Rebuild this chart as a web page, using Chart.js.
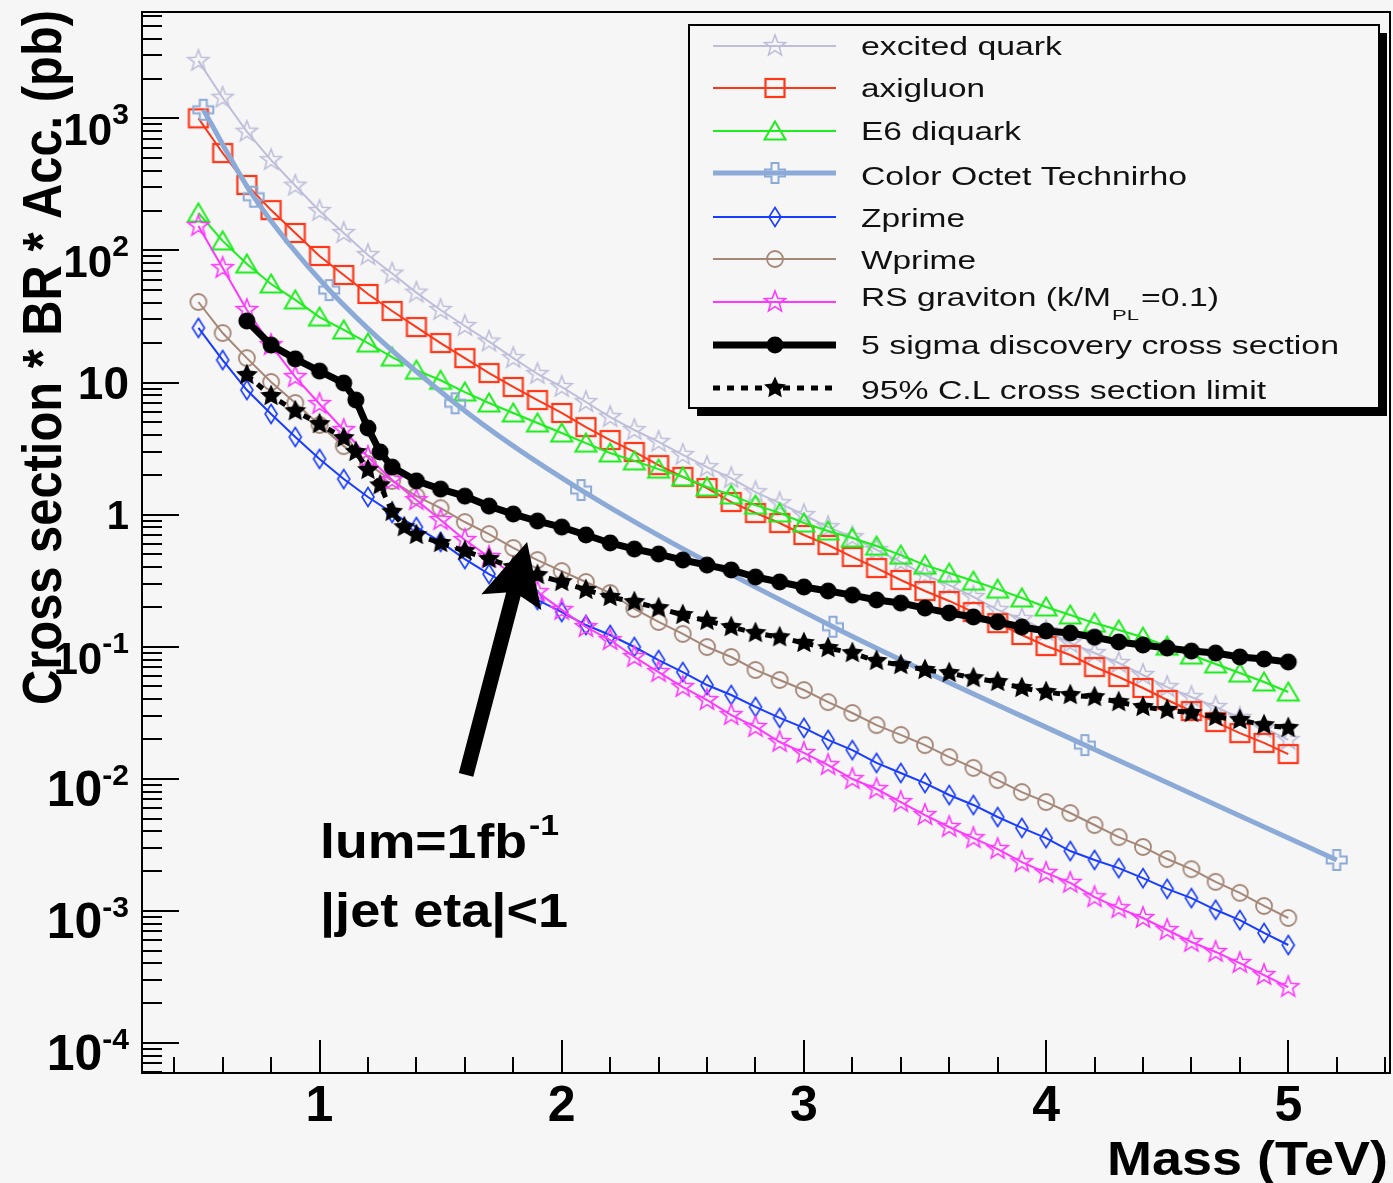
<!DOCTYPE html>
<html>
<head>
<meta charset="utf-8">
<title>Cross section * BR * Acc. vs Mass</title>
<script src="https://cdn.jsdelivr.net/npm/chart.js@4.4.1/dist/chart.umd.min.js"></script>
<style>
html,body{margin:0;padding:0;background:#f6f6f6;overflow:hidden;}
canvas{display:block;}
</style>
</head>
<body>
<canvas id="chart" width="1393" height="1183"></canvas>
<script>
// ---------------- DATA ----------------
const masses = [0.5,0.6,0.7,0.8,0.9,1.0,1.1,1.2,1.3,1.4,1.5,1.6,1.7,1.8,1.9,2.0,2.1,2.2,2.3,2.4,2.5,2.6,2.7,2.8,2.9,3.0,3.1,3.2,3.3,3.4,3.5,3.6,3.7,3.8,3.9,4.0,4.1,4.2,4.3,4.4,4.5,4.6,4.7,4.8,4.9,5.0];

const excitedQuark = [2720,1430,792,483,309,199,135.5,92.3,66.8,47.9,35.4,26.8,20.4,15.3,11.6,9.25,7.12,5.48,4.37,3.55,2.83,2.29,1.89,1.48,1.22,0.993,0.805,0.676,0.540,0.438,0.349,0.293,0.238,0.190,0.162,0.1315,0.1067,0.0896,0.0753,0.0611,0.0495,0.0416,0.0350,0.0289,0.0243,0.0197];

const axigluon = [1000,546,313,202,135.5,90.8,65.2,46.8,34.8,26.3,19.9,15.3,11.8,9.25,7.37,5.88,4.60,3.67,2.98,2.37,1.93,1.59,1.245,1.028,0.864,0.701,0.589,0.478,0.394,0.320,0.264,0.222,0.183,0.151,0.1227,0.1012,0.0865,0.0702,0.0590,0.0487,0.0395,0.0326,0.0269,0.0222,0.0187,0.0154];

const e6Diquark = [192,118,78.9,55.7,42.2,31.3,25.0,19.9,15.6,12.4,10.4,8.47,7.00,5.88,4.94,4.15,3.48,2.93,2.55,2.21,1.93,1.62,1.41,1.18,1.03,0.864,0.751,0.665,0.578,0.494,0.415,0.361,0.314,0.273,0.234,0.200,0.174,0.151,0.134,0.118,0.101,0.0865,0.0740,0.0632,0.0541,0.0454];

const technirhoMass = [0.52,0.728,1.04,1.56,2.08,3.12,4.16,5.2];
const technirho = [1160,255,50.1,6.96,1.535,0.1417,0.0180,0.00243];

const zprime = [25.9,14.8,8.77,5.78,3.87,2.64,1.86,1.36,1.03,0.805,0.621,0.461,0.355,0.283,0.226,0.183,0.146,0.1227,0.0995,0.0793,0.0643,0.0513,0.0431,0.0350,0.0289,0.0243,0.0197,0.0165,0.0132,0.01107,0.00929,0.00754,0.00634,0.00514,0.00425,0.00356,0.00284,0.00243,0.00211,0.00177,0.00147,0.00125,0.00102,0.000853,0.000681,0.000552];

const wprime = [40.7,23.7,15.3,10.1,7.00,4.77,3.30,2.42,1.80,1.38,1.12,0.879,0.713,0.559,0.453,0.374,0.309,0.255,0.193,0.154,0.125,0.0995,0.0836,0.0667,0.0560,0.0470,0.0381,0.0315,0.0255,0.0215,0.0180,0.0146,0.0121,0.00979,0.00794,0.00667,0.00551,0.00447,0.00362,0.00305,0.00247,0.00207,0.00166,0.00137,0.00109,0.000884];

const rsGraviton = [153,73.6,35.4,19.2,11.0,6.88,4.37,2.73,1.83,1.29,0.910,0.643,0.478,0.349,0.259,0.190,0.141,0.1124,0.0836,0.0643,0.0495,0.0395,0.0304,0.0247,0.0190,0.0157,0.0127,0.00996,0.00837,0.00667,0.00532,0.00432,0.00356,0.00294,0.00234,0.00194,0.00163,0.00127,0.00105,0.000884,0.000717,0.000582,0.000489,0.000403,0.000327,0.000265];

const sigma5Mass = [0.7,0.8,0.9,1.0,1.1,1.15,1.2,1.25,1.3,1.4,1.5,1.6,1.7,1.8,1.9,2.0,2.1,2.2,2.3,2.4,2.5,2.6,2.7,2.8,2.9,3.0,3.1,3.2,3.3,3.4,3.5,3.6,3.7,3.8,3.9,4.0,4.1,4.2,4.3,4.4,4.5,4.6,4.7,4.8,4.9,5.0];
const sigma5 = [29.2,19.2,15.1,12.2,9.91,7.37,4.52,2.98,2.29,1.80,1.56,1.38,1.16,1.01,0.894,0.805,0.701,0.610,0.549,0.503,0.453,0.415,0.381,0.337,0.309,0.283,0.264,0.246,0.226,0.214,0.196,0.180,0.168,0.154,0.141,0.1315,0.127,0.118,0.1086,0.1030,0.0977,0.0927,0.0896,0.0836,0.0807,0.0766];

const limitMass = [0.7,0.8,0.9,1.0,1.1,1.15,1.2,1.25,1.3,1.35,1.4,1.5,1.6,1.7,1.8,1.9,2.0,2.1,2.2,2.3,2.4,2.5,2.6,2.7,2.8,2.9,3.0,3.1,3.2,3.3,3.4,3.5,3.6,3.7,3.8,3.9,4.0,4.1,4.2,4.3,4.4,4.5,4.6,4.7,4.8,4.9,5.0];
const limit95 = [11.4,7.91,6.08,4.85,3.80,2.98,2.18,1.67,1.05,0.805,0.701,0.610,0.530,0.461,0.401,0.349,0.309,0.269,0.238,0.218,0.196,0.174,0.157,0.141,0.127,0.118,0.1067,0.0977,0.0896,0.0780,0.0727,0.0667,0.0632,0.0579,0.0541,0.0487,0.0454,0.0431,0.0416,0.0381,0.0350,0.0332,0.0315,0.0294,0.0279,0.0255,0.0243];

const seriesLabels = ['excited quark','axigluon','E6 diquark','Color Octet Technirho','Zprime','Wprime','RS graviton (k/M_PL=0.1)','5 sigma discovery cross section','95% C.L cross section limit'];

const xTickLabels = ['1','2','3','4','5'];
const xTickValues = [1,2,3,4,5];
const yTickValues = [1e3,1e2,10,1,0.1,0.01,1e-3,1e-4];
const yTickBase   = ['10','10','10','1','10','10','10','10'];
const yTickSup    = ['3','2','','','-1','-2','-3','-4'];

const xTitle = 'Mass (TeV)';
const yTitle = 'Cross section * BR * Acc. (pb)';
const noteLine1 = 'lum=1fb';
const noteLine1Sup = '-1';
const noteLine2 = '|jet eta|<1';
// arrow annotation (data coordinates: mass, cross section)
const arrowTail = {x:1.605, y:0.0107};
const arrowTip  = {x:1.857, y:0.62};

// ---------------- STYLE ----------------
const COLORS = {
  eq:'rgb(190,190,218)', axi:'rgb(255,55,25)', e6:'rgb(30,238,30)', tech:'rgb(140,170,215)',
  zp:'rgb(25,60,255)', wp:'rgb(165,135,120)', rs:'rgb(255,55,255)', s5:'#000', cl:'#000'
};
const FONT = '"Liberation Sans", Arial, Helvetica, sans-serif';

function makeMarker(w,h,draw){const c=document.createElement('canvas');c.width=w;c.height=h;const g=c.getContext('2d');g.translate(w/2,h/2);draw(g);return c;}
function starPath(g,R,r){g.beginPath();for(let i=0;i<10;i++){const a=-Math.PI/2+i*Math.PI/5;const rr=(i%2)?r:R;g.lineTo(rr*Math.cos(a),rr*Math.sin(a));}g.closePath();}
const MARK = {
  eq: makeMarker(26,26,g=>{starPath(g,11,4.6);g.strokeStyle=COLORS.eq;g.lineWidth=1.6;g.stroke();}),
  axi: makeMarker(24,24,g=>{g.strokeStyle=COLORS.axi;g.lineWidth=2.2;g.strokeRect(-9.5,-9,19,18);}),
  e6: makeMarker(26,24,g=>{g.beginPath();g.moveTo(0,-9.5);g.lineTo(10.5,8.5);g.lineTo(-10.5,8.5);g.closePath();g.strokeStyle=COLORS.e6;g.lineWidth=2;g.stroke();}),
  tech: makeMarker(26,26,g=>{const a=10,b=3.5;g.beginPath();g.moveTo(-b,-a);g.lineTo(b,-a);g.lineTo(b,-b);g.lineTo(a,-b);g.lineTo(a,b);g.lineTo(b,b);g.lineTo(b,a);g.lineTo(-b,a);g.lineTo(-b,b);g.lineTo(-a,b);g.lineTo(-a,-b);g.lineTo(-b,-b);g.closePath();g.strokeStyle=COLORS.tech;g.lineWidth=2;g.stroke();}),
  zp: makeMarker(18,24,g=>{g.beginPath();g.moveTo(0,-9.5);g.lineTo(6,0);g.lineTo(0,9.5);g.lineTo(-6,0);g.closePath();g.strokeStyle=COLORS.zp;g.lineWidth=1.6;g.stroke();}),
  wp: makeMarker(22,22,g=>{g.beginPath();g.arc(0,0,8,0,Math.PI*2);g.strokeStyle=COLORS.wp;g.lineWidth=1.8;g.stroke();}),
  rs: makeMarker(26,26,g=>{starPath(g,11,4.6);g.strokeStyle=COLORS.rs;g.lineWidth=1.6;g.stroke();}),
  s5: makeMarker(20,20,g=>{g.beginPath();g.arc(0,0,8.5,0,Math.PI*2);g.fillStyle='#000';g.fill();}),
  cl: makeMarker(26,26,g=>{starPath(g,11.5,5.5);g.fillStyle='#000';g.fill();})
};

function pts(xs, ys){ return xs.map((x,i)=>({x:x, y:ys[i]})); }

function ds(label, xs, ys, key, width, order, extra){
  return Object.assign({
    label:label, data:pts(xs,ys), borderColor:COLORS[key], backgroundColor:COLORS[key],
    borderWidth:width, pointStyle:MARK[key], pointRadius:8, pointHoverRadius:8,
    fill:false, tension:0, order:order, clip:false, _key:key
  }, extra||{});
}

const datasets = [
  ds(seriesLabels[0], masses, excitedQuark, 'eq', 2, 9),
  ds(seriesLabels[1], masses, axigluon, 'axi', 2, 8),
  ds(seriesLabels[2], masses, e6Diquark, 'e6', 2, 7),
  ds(seriesLabels[3], technirhoMass, technirho, 'tech', 5, 6, {cubicInterpolationMode:'monotone', tension:0.4}),
  ds(seriesLabels[4], masses, zprime, 'zp', 2, 5),
  ds(seriesLabels[5], masses, wprime, 'wp', 2, 4),
  ds(seriesLabels[6], masses, rsGraviton, 'rs', 2, 3),
  ds(seriesLabels[7], sigma5Mass, sigma5, 's5', 7, 2),
  ds(seriesLabels[8], limitMass, limit95, 'cl', 5, 1, {borderDash:[7,7]})
];

// ---------------- helpers for drawing text ----------------
function fitText(ctx, text, x, y, font, targetW, align){
  ctx.font = font;
  const w = ctx.measureText(text).width;
  const sx = targetW ? targetW / w : 1;
  ctx.save(); ctx.translate(x, y); ctx.scale(sx, 1);
  ctx.textAlign = align || 'left'; ctx.textBaseline = 'alphabetic';
  ctx.fillText(text, 0, 0); ctx.restore();
  return w * sx;
}

// ---------------- ROOT-like frame, ticks, labels, legend, notes ----------------
const rootPlugin = {
  id:'rootStyle',
  beforeDatasetsDraw(chart){
    const {ctx, chartArea:a, scales:{x, y}} = chart;
    ctx.save();
    ctx.strokeStyle = '#000'; ctx.lineWidth = 2;
    ctx.strokeRect(a.left, a.top, a.right - a.left, a.bottom - a.top);
    ctx.beginPath();
    for (let k = 2; k <= 27; k++) {
      const v = k / 5;
      if (v < x.min || v > x.max) continue;
      const px = Math.round(x.getPixelForValue(v));
      const len = (k % 5 === 0) ? 33 : 16;
      ctx.moveTo(px, a.bottom); ctx.lineTo(px, a.bottom - len);
    }
    for (let e = -5; e <= 3; e++) {
      for (let m = 1; m <= 9; m++) {
        const v = m * Math.pow(10, e);
        if (v < y.min || v > y.max) continue;
        const py = Math.round(y.getPixelForValue(v));
        const len = (m === 1) ? 37 : 20;
        ctx.moveTo(a.left, py); ctx.lineTo(a.left + len, py);
      }
    }
    ctx.stroke();
    ctx.restore();
  },
  afterDatasetsDraw(chart){
    const {ctx, scales:{x, y}} = chart;
    ctx.save();
    // ---- arrow annotation ----
    const tx = x.getPixelForValue(arrowTip.x), ty = y.getPixelForValue(arrowTip.y);
    const sx = x.getPixelForValue(arrowTail.x), sy = y.getPixelForValue(arrowTail.y);
    const dx = tx - sx, dy = ty - sy, L = Math.hypot(dx, dy);
    const ux = dx / L, uy = dy / L, nx = -uy, ny = ux;
    const headL = 62, headW = 31, shaftW = 7.5;
    const bx = tx - ux * headL, by = ty - uy * headL;
    ctx.fillStyle = '#000';
    ctx.beginPath();
    ctx.moveTo(sx + nx * shaftW, sy + ny * shaftW);
    ctx.lineTo(bx + nx * shaftW + ux * 8, by + ny * shaftW + uy * 8);
    ctx.lineTo(bx + nx * headW, by + ny * headW);
    ctx.lineTo(tx, ty);
    ctx.lineTo(bx - nx * headW, by - ny * headW);
    ctx.lineTo(bx - nx * shaftW + ux * 8, by - ny * shaftW + uy * 8);
    ctx.lineTo(sx - nx * shaftW, sy - ny * shaftW);
    ctx.closePath(); ctx.fill();

    // ---- legend box ----
    const LB = {x:689, y:25, w:690, h:383, sh:8};
    ctx.fillStyle = '#000';
    ctx.fillRect(LB.x + LB.sh, LB.y + LB.sh, LB.w, LB.h);
    ctx.fillStyle = '#f6f6f6';
    ctx.fillRect(LB.x, LB.y, LB.w, LB.h);
    ctx.strokeStyle = '#000'; ctx.lineWidth = 2;
    ctx.strokeRect(LB.x, LB.y, LB.w, LB.h);
    const rowY = [46, 88, 131, 173, 217, 259, 302, 345, 388];
    const baseY = [55, 97, 140, 185, 227, 269, 306, 354, 399];
    const textW = [201, 124, 160, 326, 104, 115, 0, 478, 405];
    const lf = '26px ' + FONT;
    chart.data.datasets.forEach((d, i) => {
      ctx.save();
      ctx.strokeStyle = d.borderColor; ctx.lineWidth = d.borderWidth;
      if (d.borderDash) ctx.setLineDash(d.borderDash);
      ctx.beginPath(); ctx.moveTo(713, rowY[i]); ctx.lineTo(836, rowY[i]); ctx.stroke();
      ctx.restore();
      const mk = d.pointStyle;
      ctx.drawImage(mk, Math.round(774.5 - mk.width / 2), Math.round(rowY[i] - mk.height / 2));
      ctx.fillStyle = '#111';
      if (d._key === 'rs') {
        ctx.font = lf;
        const p1 = 'RS graviton (k/M', p3 = '=0.1)';
        const w1 = ctx.measureText(p1).width;
        const s = 250 / w1;
        fitText(ctx, p1, 861, baseY[i], lf, w1 * s);
        fitText(ctx, 'PL', 1112, baseY[i] + 14, '15px ' + FONT, 27);
        fitText(ctx, p3, 1141, baseY[i], lf, 78);
      } else {
        fitText(ctx, d.label, 861, baseY[i], lf, textW[i]);
      }
    });
    ctx.restore();
  },
  afterDraw(chart){
    const {ctx, scales:{x, y}} = chart;
    ctx.save();
    ctx.fillStyle = '#000';
    xTickValues.forEach((v, i) => {
      const px = x.getPixelForValue(v);
      ctx.font = 'bold 50px ' + FONT; ctx.textAlign = 'center'; ctx.textBaseline = 'alphabetic';
      ctx.fillText(xTickLabels[i], px, 1121);
    });
    const right = 129;
    yTickValues.forEach((v, i) => {
      const py = y.getPixelForValue(v);
      const sup = yTickSup[i];
      const big = (v < 0.05);
      const bf = big ? 50 : (sup ? 44 : (v === 1 ? 40 : 46));
      ctx.textAlign = 'right'; ctx.textBaseline = 'alphabetic';
      if (sup) {
        ctx.font = 'bold 30px ' + FONT;
        const sw = ctx.measureText(sup).width;
        ctx.fillText(sup, right, py + 6);
        ctx.font = 'bold ' + bf + 'px ' + FONT;
        ctx.fillText(yTickBase[i], right - sw, py + 27);
      } else {
        ctx.font = 'bold ' + bf + 'px ' + FONT;
        ctx.fillText(yTickBase[i], right, py + bf * 0.36);
      }
    });
    fitText(ctx, xTitle, 1388, 1175, 'bold 49px ' + FONT, 281, 'right');
    ctx.save();
    ctx.translate(61, 705); ctx.rotate(-Math.PI / 2);
    fitText(ctx, yTitle, 0, 0, 'bold 56px ' + FONT, 695, 'left');
    ctx.restore();
    fitText(ctx, noteLine1, 320, 858, 'bold 48px ' + FONT, 207);
    fitText(ctx, noteLine1Sup, 529, 835, 'bold 30px ' + FONT, 30);
    fitText(ctx, noteLine2, 320, 927, 'bold 48px ' + FONT, 248);
    ctx.restore();
  }
};

new Chart(document.getElementById('chart'), {
  type:'line',
  data:{ datasets: datasets },
  options:{
    responsive:false, animation:false, devicePixelRatio:1,
    layout:{ autoPadding:false, padding:{ left:142, top:12, right:3, bottom:110 } },
    plugins:{ legend:{display:false}, tooltip:{enabled:false}, title:{display:false} },
    scales:{
      x:{ type:'linear', min:0.267, max:5.42, bounds:'data',
          grid:{display:false, drawTicks:false}, border:{display:false}, ticks:{display:false} },
      y:{ type:'logarithmic', min:5.93e-5, max:6380, bounds:'data',
          grid:{display:false, drawTicks:false}, border:{display:false}, ticks:{display:false} }
    },
    elements:{ point:{ hitRadius:0 } }
  },
  plugins:[rootPlugin]
});
</script>
</body>
</html>
